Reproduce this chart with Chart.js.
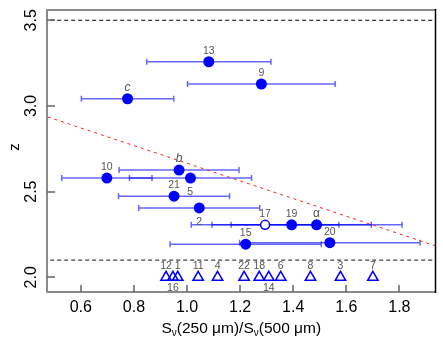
<!DOCTYPE html>
<html>
<head>
<meta charset="utf-8">
<script src="https://cdn.jsdelivr.net/npm/chart.js@4"></script>
<style>
  html, body { margin: 0; padding: 0; background: #fff; }
  #wrap { width: 443px; height: 340px; }
</style>
</head>
<body>
<div id="wrap"><canvas id="zChart"></canvas></div>
<script>
// sources with spectroscopic z (filled circles, 17 is open)
const srcNames = ['13', '9', 'c', 'b', '', '10', '21', '5', '19', 'α', '15', '20'];
const srcRatio = [1.082, 1.280, 0.776, 0.970, 1.013, 0.698, 0.951, 1.046, 1.394, 1.488, 1.221, 1.538];
const srcErr = [0.234, 0.278, 0.174, 0.226, 0.230, 0.170, 0.209, 0.228, 0.300, 0.322, 0.285, 0.340];
const srcZ = [3.258, 3.128, 3.042, 2.626, 2.579, 2.579, 2.473, 2.405, 2.306, 2.306, 2.193, 2.202];

const openNames = ['17'];
const openRatio = [1.294];
const openErr = [0.278];
const openZ = [2.306];

// lower-limit sources shown as triangles along the bottom
const limNames = ['12', '16', '1', '11', '4', '22', '18', '14', '6', '8', '3', '7'];
const limRatio = [0.921, 0.947, 0.965, 1.042, 1.115, 1.215, 1.272, 1.308, 1.353, 1.465, 1.578, 1.700];
const limZ = [2.0, 2.0, 2.0, 2.0, 2.0, 2.0, 2.0, 2.0, 2.0, 2.0, 2.0, 2.0];

// colour cut (red dashed) and reference redshifts (black dashed)
const cutRatio = [0.3, 2.1];
const cutZ = [3.026, 2.099];
const refZ = [3.5, 2.1];

const xTicks = [0.6, 0.8, 1.0, 1.2, 1.4, 1.6, 1.8];
const yTicks = [2.0, 2.5, 3.0, 3.5];

const blue = '#0000ff';
const FONT = '"Liberation Sans", Arial, sans-serif';

const toPts = (xs, ys) => xs.map((x, i) => ({ x: x, y: ys[i] }));

// error bars under the markers
const errorBars = {
    id: 'errorBars',
    beforeDatasetsDraw(chart) {
        const { ctx, scales: { x, y } } = chart;
        const groups = [[srcRatio, srcErr, srcZ], [openRatio, openErr, openZ]];
        ctx.save();
        ctx.strokeStyle = 'rgba(0,0,255,0.6)';
        ctx.lineWidth = 1.5;
        groups.forEach(([xs, es, zs]) => {
            xs.forEach((v, i) => {
                const x0 = x.getPixelForValue(v - es[i]);
                const x1 = x.getPixelForValue(v + es[i]);
                const py = y.getPixelForValue(zs[i]);
                ctx.beginPath();
                ctx.moveTo(x0, py); ctx.lineTo(x1, py);
                ctx.moveTo(x0, py - 3); ctx.lineTo(x0, py + 3);
                ctx.moveTo(x1, py - 3); ctx.lineTo(x1, py + 3);
                ctx.stroke();
            });
        });
        ctx.restore();
    }
};

// point labels, axes frame, ticks and titles
const decorations = {
    id: 'decorations',
    afterDraw(chart) {
        const { ctx, chartArea: a, scales: { x, y } } = chart;
        ctx.save();

        // point labels
        ctx.fillStyle = '#555';
        ctx.textAlign = 'center';
        ctx.textBaseline = 'middle';
        const label = (txt, v, z, dx, dy) => {
            const greek = txt === 'α';
            const italic = txt === 'b' || txt === 'c';
            ctx.font = (italic ? 'italic ' : '') + (greek || italic ? '12px ' : '10.5px ') + FONT;
            ctx.fillText(txt, x.getPixelForValue(v) + dx, y.getPixelForValue(z) + dy);
        };
        srcNames.forEach((n, i) => {
            if (!n) return;
            if (n === '5') label(n, srcRatio[i], srcZ[i], -9, -16);
            else label(n, srcRatio[i], srcZ[i], 0, -11);
        });
        openNames.forEach((n, i) => label(n, openRatio[i], openZ[i], 0, -11));
        label('2', 1.046, 2.306, 0, -3);
        limNames.forEach((n, i) => {
            const below = n === '16' || n === '14';
            label(n, limRatio[i], limZ[i], 0, below ? 11 : -11);
        });

        // frame
        ctx.lineWidth = 2;
        ctx.strokeStyle = '#8a8a8a';
        ctx.beginPath();
        ctx.moveTo(a.right, a.top); ctx.lineTo(a.left, a.top);
        ctx.lineTo(a.left, a.bottom); ctx.lineTo(a.right, a.bottom);
        ctx.stroke();
        ctx.strokeStyle = '#000';
        ctx.lineWidth = 1.5;
        ctx.beginPath();
        ctx.moveTo(a.right, a.top - 1); ctx.lineTo(a.right, a.bottom + 1);
        ctx.stroke();

        // inward ticks
        ctx.strokeStyle = '#666';
        ctx.lineWidth = 1.5;
        ctx.beginPath();
        xTicks.forEach(v => {
            const px = Math.round(x.getPixelForValue(v));
            ctx.moveTo(px, a.bottom); ctx.lineTo(px, a.bottom - 7);
        });
        yTicks.forEach(v => {
            const py = Math.round(y.getPixelForValue(v));
            ctx.moveTo(a.left, py); ctx.lineTo(a.left + 8, py);
        });
        ctx.stroke();

        // tick labels
        ctx.fillStyle = '#000';
        ctx.font = '16px ' + FONT;
        ctx.textAlign = 'center';
        ctx.textBaseline = 'middle';
        xTicks.forEach(v => {
            ctx.fillText(v.toFixed(1), x.getPixelForValue(v), a.bottom + 16);
        });
        yTicks.forEach(v => {
            ctx.save();
            ctx.translate(a.left - 15, y.getPixelForValue(v));
            ctx.rotate(-Math.PI / 2);
            ctx.fillText(v.toFixed(1), 0, 0);
            ctx.restore();
        });

        // y title
        ctx.save();
        ctx.translate(15, 147);
        ctx.rotate(-Math.PI / 2);
        ctx.font = '15px ' + FONT;
        ctx.fillText('z', 0, 0);
        ctx.restore();

        // x title with nu subscripts
        const parts = [['S', 0], ['ν', 1], ['(250 μm)/S', 0], ['ν', 1], ['(500 μm)', 0]];
        const big = '15.5px ' + FONT, small = '10px ' + FONT;
        let total = 0;
        parts.forEach(([t, s]) => { ctx.font = s ? small : big; total += ctx.measureText(t).width; });
        let cx = (a.left + a.right) / 2 - total / 2;
        ctx.textAlign = 'left';
        ctx.textBaseline = 'alphabetic';
        parts.forEach(([t, s]) => {
            ctx.font = s ? small : big;
            ctx.fillText(t, cx, s ? 336 : 333);
            cx += ctx.measureText(t).width;
        });

        ctx.restore();
    }
};

new Chart(document.getElementById('zChart'), {
    type: 'scatter',
    data: {
        datasets: [
            {
                label: 'spec-z',
                data: toPts(srcRatio, srcZ),
                pointStyle: 'circle',
                pointRadius: 5.5,
                pointBackgroundColor: blue,
                pointBorderColor: blue,
                pointBorderWidth: 0
            },
            {
                label: 'open',
                data: toPts(openRatio, openZ),
                pointStyle: 'circle',
                pointRadius: 4.5,
                pointBackgroundColor: '#fff',
                pointBorderColor: blue,
                pointBorderWidth: 1.5
            },
            {
                label: 'limits',
                data: toPts(limRatio, limZ),
                pointStyle: 'triangle',
                pointRadius: 6,
                pointBackgroundColor: 'rgba(0,0,0,0)',
                pointBorderColor: blue,
                pointBorderWidth: 1.5
            },
            {
                label: 'cut',
                type: 'line',
                data: toPts(cutRatio, cutZ),
                borderColor: '#ff2020',
                borderWidth: 1,
                borderDash: [3, 4],
                pointRadius: 0
            },
            {
                label: 'z=3.5',
                type: 'line',
                data: toPts(cutRatio, [refZ[0], refZ[0]]),
                borderColor: '#000',
                borderWidth: 1,
                borderDash: [4, 3],
                pointRadius: 0
            },
            {
                label: 'z=2.1',
                type: 'line',
                data: toPts(cutRatio, [refZ[1], refZ[1]]),
                borderColor: '#444',
                borderWidth: 1.2,
                borderDash: [4, 3],
                pointRadius: 0
            }
        ]
    },
    plugins: [errorBars, decorations],
    options: {
        responsive: true,
        maintainAspectRatio: false,
        animation: false,
        layout: { padding: { left: 47, right: 6, top: 10, bottom: 48 } },
        plugins: {
            legend: { display: false },
            tooltip: { enabled: false }
        },
        scales: {
            x: { type: 'linear', min: 0.4725, max: 1.936, display: false },
            y: { type: 'linear', min: 1.914, max: 3.56, display: false }
        }
    }
});
</script>
</body>
</html>
